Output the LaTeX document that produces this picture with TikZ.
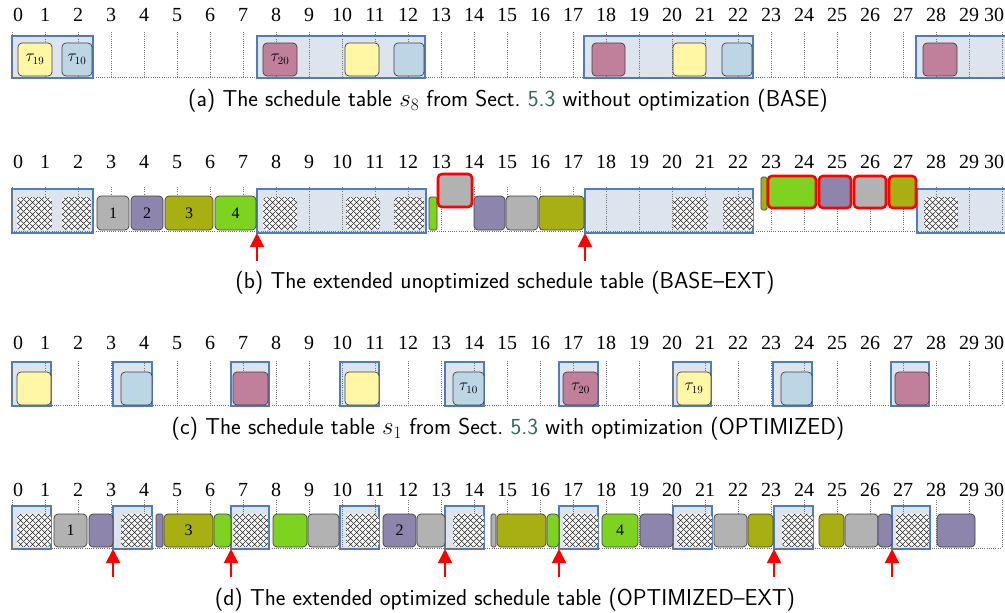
\documentclass[tikz,border=0pt]{standalone}
\usepackage{fontspec}
\setmainfont{Liberation Serif}
\usetikzlibrary{arrows.meta,patterns.meta}

\definecolor{tyellow}{HTML}{FFF7A6}
\definecolor{tblue}{HTML}{BCD6E6}
\definecolor{tmauve}{HTML}{C07F9B}
\definecolor{tgray}{HTML}{B2B2B2}
\definecolor{tpurple}{HTML}{8D85AC}
\definecolor{tolive}{HTML}{A8AF12}
\definecolor{tgreen}{HTML}{7ED321}
\definecolor{winfill}{HTML}{DDE4EE}
\definecolor{winedge}{HTML}{4F7CBB}
\definecolor{linkteal}{HTML}{2F6A5E}

% diagonal mesh used for the reserved (blocked) slots
\pgfdeclarepattern{
  name=meshgrid,
  type=uncolored,
  bottom left={\pgfpoint{0pt}{0pt}},
  top right={\pgfpoint{6pt}{6pt}},
  tile size={\pgfpoint{6pt}{6pt}},
  code={
    \pgfsetlinewidth{0.75pt}
    \pgfpathmoveto{\pgfpoint{-1pt}{-1pt}}\pgfpathlineto{\pgfpoint{7pt}{7pt}}
    \pgfpathmoveto{\pgfpoint{-1pt}{7pt}}\pgfpathlineto{\pgfpoint{7pt}{-1pt}}
    \pgfusepath{stroke}
  }
}

% block: style, name, x0, x1, y0, y1, text
\newcommand\blk[7]{%
  \node[#1, minimum width={#4-(#3)}, minimum height={#6-(#5)}] (#2)
    at ({(#3+#4)/2},{(#5+#6)/2}) {#7};}

% time axis: label row y, tick top, baseline
\newcommand\timeaxis[4]{%
  \foreach \k in {0,...,30}
    \draw[gridline] ({12+33*\k},#2) -- ({12+33*\k},#3);
  \draw[gridline] (12,#3) -- (1002,#3);
  \node[num] (#4n0) at (18,#1) {0};
  \foreach \k in {1,...,29}
    \node[num] (#4n\k) at ({12+33*\k},#1) {\k};
  \node[num] (#4n30) at (994,#1) {30};}

\begin{document}
\begin{tikzpicture}[x=1pt,y=-1pt,
  window/.style={rectangle, draw=winedge, fill=winfill, line width=1.1pt,
    inner sep=0pt, outer sep=0pt},
  job/.style={rectangle, rounded corners=4pt, draw=black!75, line width=0.7pt,
    inner sep=0pt, outer sep=0pt, font=\fontsize{16}{16}\selectfont},
  thinjob/.style={job, rounded corners=1.5pt},
  meshbox/.style={rectangle, rounded corners=4pt, inner sep=0pt, outer sep=0pt,
    preaction={fill=white}, pattern={meshgrid}, pattern color=black!85},
  overrun/.style={job, draw=red, line width=2.6pt},
  gridline/.style={draw=black!55, line width=0.8pt, dash pattern=on 1pt off 1.2pt},
  num/.style={font=\fontsize{20}{20}\selectfont, inner sep=0pt},
  subcap/.style={font=\sffamily\fontsize{23}{26}\selectfont, inner sep=0pt},
  deadline/.style={draw=red, line width=2pt, -{Triangle[width=14pt,length=14pt]}}
]
\useasboundingbox (0,0) rectangle (1005,613);

% ================= (a) BASE =================
\blk{window}{aw1}{12}{93}{36}{78}{}
\blk{window}{aw2}{257}{425}{36}{78}{}
\blk{window}{aw3}{584}{753}{36}{78}{}
\blk{window}{aw4}{916}{1012}{36}{78}{}
\timeaxis{15}{32}{77}{a}
\blk{job,fill=tyellow}{aj1}{18}{52}{43}{76}{$\tau_{19}$}
\blk{job,fill=tblue}{aj2}{62}{92}{43}{76}{$\tau_{10}$}
\blk{job,fill=tmauve}{aj3}{263}{297}{43}{76}{$\tau_{20}$}
\blk{job,fill=tyellow}{aj4}{345}{379}{43}{76}{}
\blk{job,fill=tblue}{aj5}{394}{424}{43}{76}{}
\blk{job,fill=tmauve}{aj6}{592}{625}{43}{76}{}
\blk{job,fill=tyellow}{aj7}{673}{706}{43}{76}{}
\blk{job,fill=tblue}{aj8}{722}{752}{43}{76}{}
\blk{job,fill=tmauve}{aj9}{923}{957}{43}{76}{}
\node[subcap] (capa) at (508,101)
  {(a) The schedule table $s_8$ from Sect.~\textcolor{linkteal}{5.3} without optimization (BASE)};

% ================= (b) BASE-EXT =================
\blk{window}{bw1}{12}{93}{189}{233}{}
\blk{window}{bw2}{257}{426}{189}{233}{}
\blk{window}{bw3}{585}{753}{189}{233}{}
\blk{window}{bw4}{917}{1012}{189}{233}{}
\timeaxis{162}{187}{231}{b}
\blk{meshbox}{bm1}{17}{52}{197}{230}{}
\blk{meshbox}{bm2}{62}{91}{197}{230}{}
\blk{meshbox}{bm3}{263}{297}{197}{230}{}
\blk{meshbox}{bm4}{346}{380}{197}{230}{}
\blk{meshbox}{bm5}{394}{424}{197}{230}{}
\blk{meshbox}{bm6}{673}{708}{197}{230}{}
\blk{meshbox}{bm7}{723}{753}{197}{230}{}
\blk{meshbox}{bm8}{924}{958}{197}{230}{}
\blk{job,fill=tgray}{bj1}{97}{129}{196}{230}{1}
\blk{job,fill=tpurple}{bj2}{131}{163}{196}{230}{2}
\blk{job,fill=tolive}{bj3}{165}{213}{196}{230}{3}
\blk{job,fill=tgreen}{bj4}{215}{256}{196}{230}{4}
\blk{thinjob,fill=tgreen}{bj5}{429}{437}{197}{230}{}
\blk{job,fill=tpurple}{bj6}{474}{505}{196}{230}{}
\blk{job,fill=tgray}{bj7}{506}{538}{196}{230}{}
\blk{job,fill=tolive}{bj8}{539}{584}{196}{230}{}
\blk{overrun,fill=tgray}{bo1}{438}{472}{174}{207}{}
\blk{thinjob,fill=tolive}{bj9}{761}{767}{177}{210}{}
\blk{overrun,fill=tgreen}{bo2}{768}{816}{176}{208}{}
\blk{overrun,fill=tpurple}{bo3}{819}{851}{176}{208}{}
\blk{overrun,fill=tgray}{bo4}{854}{886}{176}{208}{}
\blk{overrun,fill=tolive}{bo5}{889}{916}{176}{208}{}
\draw[deadline] ([yshift=-28pt]bw2.south west) -- (bw2.south west);
\draw[deadline] ([yshift=-28pt]bw3.south west) -- (bw3.south west);
\node[subcap] (capb) at (505,283)
  {(b) The extended unoptimized schedule table (BASE–EXT)};

% ================= (c) OPTIMIZED =================
\blk{window}{cw1}{12}{51}{362}{406}{}
\blk{window}{cw2}{113}{152}{362}{406}{}
\blk{window}{cw3}{231}{269}{362}{406}{}
\blk{window}{cw4}{340}{379}{362}{406}{}
\blk{window}{cw5}{445}{484}{362}{406}{}
\blk{window}{cw6}{559}{598}{362}{406}{}
\blk{window}{cw7}{673}{711}{362}{406}{}
\blk{window}{cw8}{773}{812}{362}{406}{}
\blk{window}{cw9}{891}{929}{362}{406}{}
\timeaxis{343}{361}{405}{c}
\blk{job,fill=tyellow}{cj1}{17}{51}{372}{405}{}
\blk{job,fill=tblue}{cj2}{121}{152}{372}{405}{}
\blk{job,fill=tmauve}{cj3}{233}{268}{372}{405}{}
\blk{job,fill=tyellow}{cj4}{345}{379}{372}{405}{}
\blk{job,fill=tblue}{cj5}{453}{484}{372}{405}{$\tau_{10}$}
\blk{job,fill=tmauve}{cj6}{563}{598}{372}{405}{$\tau_{20}$}
\blk{job,fill=tyellow}{cj7}{677}{711}{372}{405}{$\tau_{19}$}
\blk{job,fill=tblue}{cj8}{781}{812}{372}{405}{}
\blk{job,fill=tmauve}{cj9}{895}{929}{372}{405}{}
\node[subcap] (capc) at (508,429)
  {(c) The schedule table $s_1$ from Sect.~\textcolor{linkteal}{5.3} with optimization (OPTIMIZED)};

% ================= (d) OPTIMIZED-EXT =================
\blk{window}{dw1}{12}{51}{506}{549}{}
\blk{window}{dw2}{113}{152}{506}{549}{}
\blk{window}{dw3}{231}{269}{506}{549}{}
\blk{window}{dw4}{340}{379}{506}{549}{}
\blk{window}{dw5}{445}{484}{506}{549}{}
\blk{window}{dw6}{559}{598}{506}{549}{}
\blk{window}{dw7}{673}{712}{506}{549}{}
\blk{window}{dw8}{774}{813}{506}{549}{}
\blk{window}{dw9}{892}{930}{506}{549}{}
\timeaxis{490}{500}{548}{d}
\blk{meshbox}{dm1}{17}{51}{514}{547}{}
\blk{meshbox}{dm2}{121}{152}{514}{547}{}
\blk{meshbox}{dm3}{233}{268}{514}{547}{}
\blk{meshbox}{dm4}{346}{379}{514}{547}{}
\blk{meshbox}{dm5}{453}{484}{514}{547}{}
\blk{meshbox}{dm6}{563}{598}{514}{547}{}
\blk{meshbox}{dm7}{677}{712}{514}{547}{}
\blk{meshbox}{dm8}{782}{813}{514}{547}{}
\blk{meshbox}{dm9}{896}{929}{514}{547}{}
\blk{job,fill=tgray}{dj1}{54}{87}{514}{547}{1}
\blk{job,fill=tpurple}{dj2}{89}{113}{514}{547}{}
\blk{thinjob,fill=tpurple}{dj3}{156}{163}{514}{547}{}
\blk{job,fill=tolive}{dj4}{164}{213}{514}{547}{3}
\blk{job,fill=tgreen}{dj5}{214}{231}{514}{547}{}
\blk{job,fill=tgreen}{dj6}{273}{307}{514}{547}{}
\blk{job,fill=tgray}{dj7}{308}{339}{514}{547}{}
\blk{job,fill=tpurple}{dj8}{383}{416}{514}{547}{2}
\blk{job,fill=tgray}{dj9}{417}{445}{514}{547}{}
\blk{thinjob,fill=tgray}{dj10}{491}{496}{514}{547}{}
\blk{job,fill=tolive}{dj11}{497}{546}{514}{547}{}
\blk{job,fill=tgreen}{dj12}{547}{559}{514}{547}{}
\blk{job,fill=tgreen}{dj13}{602}{638}{514}{547}{4}
\blk{job,fill=tpurple}{dj14}{640}{673}{514}{547}{}
\blk{job,fill=tgray}{dj15}{714}{747}{514}{547}{}
\blk{job,fill=tolive}{dj16}{748}{773}{514}{547}{}
\blk{job,fill=tolive}{dj17}{819}{844}{514}{547}{}
\blk{job,fill=tgray}{dj18}{845}{878}{514}{547}{}
\blk{job,fill=tpurple}{dj19}{878}{892}{514}{547}{}
\blk{job,fill=tpurple}{dj20}{937}{975}{514}{547}{}
\foreach \w in {dw2,dw3,dw5,dw6,dw8,dw9}
  \draw[deadline] ([yshift=-28pt]\w.south west) -- (\w.south west);
\node[subcap] (capd) at (505,600)
  {(d) The extended optimized schedule table (OPTIMIZED–EXT)};
\end{tikzpicture}
\end{document}
